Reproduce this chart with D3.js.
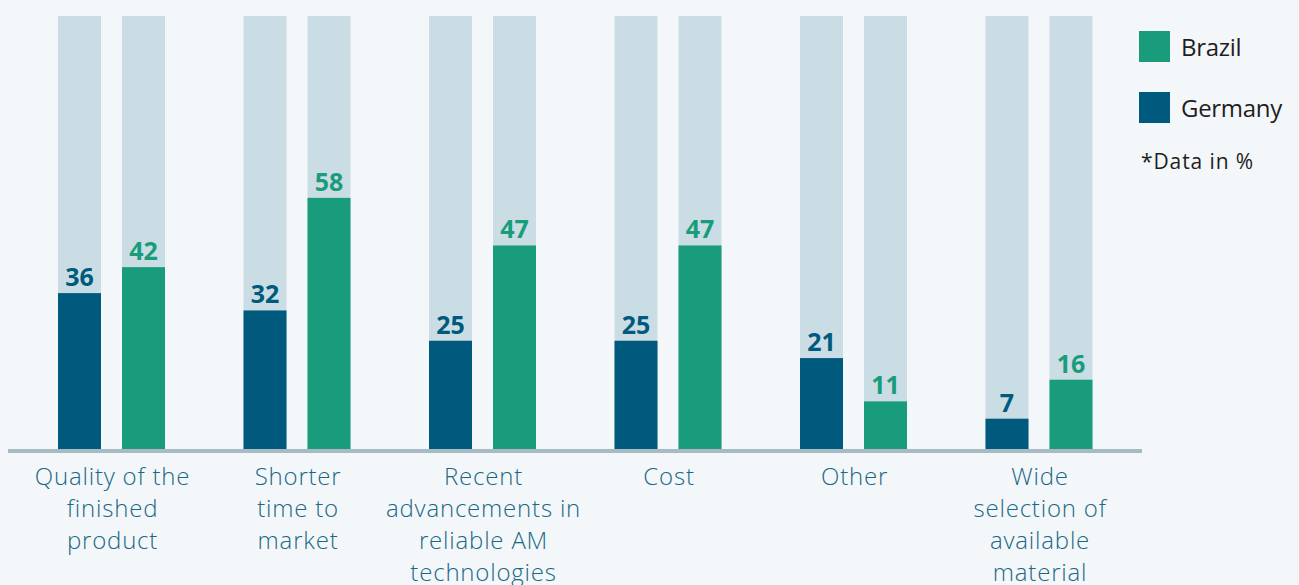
<!DOCTYPE html>
<html>
<head>
<meta charset="utf-8">
<script src="https://cdn.jsdelivr.net/npm/d3@7"></script>
<style>
  html, body { margin: 0; padding: 0; background: #f3f7f9; }
  svg { display: block; }
</style>
</head>
<body>
<svg id="chart" width="1299" height="585"></svg>
<script>
// Survey drivers, share of respondents (%)
const categories = [
  ["Quality of the", "finished", "product"],
  ["Shorter", "time to", "market"],
  ["Recent", "advancements in", "reliable AM", "technologies"],
  ["Cost"],
  ["Other"],
  ["Wide", "selection of", "available", "material"]
];
const categoryKeys = categories.map(c => c.join(" "));
const seriesNames = ["Germany", "Brazil"];
const germanyValues = [36, 32, 25, 25, 21, 7];
const brazilValues = [42, 58, 47, 47, 11, 16];
const legendNames = ["Brazil", "Germany"];
const footnote = "*Data in %";

const colors = { Germany: "#005a7d", Brazil: "#199c7c" };
const trackColor = "#cadde4";
const axisColor = "#a8bbc5";
const labelColor = "#1b6886";
const fontFamily = "'Open Sans', 'Noto Sans', sans-serif";

const svg = d3.select("#chart");

const x0 = d3.scaleBand().domain(categoryKeys).range([19, 1132]).padding(0);
const x1 = d3.scaleBand().domain(seriesNames).range([39, 146]).paddingInner(0.328).paddingOuter(0);
const y = d3.scaleLinear().domain([0, 100]).range([449, 16]);

const rows = categoryKeys.map((k, i) => ({
  key: k,
  values: [
    { series: "Germany", value: germanyValues[i] },
    { series: "Brazil", value: brazilValues[i] }
  ]
}));

const groups = svg.append("g").selectAll("g")
  .data(rows).join("g")
  .attr("transform", d => `translate(${x0(d.key)},0)`);

// full-height tracks behind each bar
groups.selectAll("rect.track").data(d => d.values).join("rect")
  .attr("class", "track")
  .attr("x", d => x1(d.series))
  .attr("width", x1.bandwidth())
  .attr("y", y(100))
  .attr("height", y(0) - y(100))
  .attr("fill", trackColor);

groups.selectAll("rect.bar").data(d => d.values).join("rect")
  .attr("class", "bar")
  .attr("x", d => x1(d.series))
  .attr("width", x1.bandwidth())
  .attr("y", d => y(d.value))
  .attr("height", d => y(0) - y(d.value))
  .attr("fill", d => colors[d.series]);

groups.selectAll("text.val").data(d => d.values).join("text")
  .attr("class", "val")
  .attr("x", d => x1(d.series) + x1.bandwidth() / 2)
  .attr("y", d => y(d.value) - 7)
  .attr("text-anchor", "middle")
  .attr("font-family", fontFamily)
  .attr("font-weight", 700)
  .attr("font-size", 25)
  .attr("fill", d => colors[d.series])
  .text(d => d.value);

// baseline
svg.append("line")
  .attr("x1", 8).attr("x2", 1142)
  .attr("y1", 451).attr("y2", 451)
  .attr("stroke", axisColor)
  .attr("stroke-width", 4);

// category labels
const catText = svg.append("g").selectAll("text")
  .data(categories).join("text")
  .attr("text-anchor", "middle")
  .attr("font-family", fontFamily)
  .attr("font-weight", 300)
  .attr("font-size", 24)
  .attr("letter-spacing", 0.8)
  .attr("fill", labelColor)
  .attr("transform", (d, i) => `translate(${x0(categoryKeys[i]) + x0.bandwidth() / 2 + 0.8},485)`);
catText.selectAll("tspan").data(d => d).join("tspan")
  .attr("x", 0)
  .attr("dy", (d, i) => i === 0 ? 0 : 32)
  .text(d => d);

// legend
const legend = svg.append("g").attr("transform", "translate(1139,31)");
const li = legend.selectAll("g").data(legendNames).join("g")
  .attr("transform", (d, i) => `translate(0,${i * 61})`);
li.append("rect").attr("width", 31).attr("height", 31).attr("fill", d => colors[d]);
li.append("text")
  .attr("x", 42).attr("y", 25)
  .attr("font-family", fontFamily)
  .attr("font-size", 24)
  .attr("letter-spacing", -0.3)
  .attr("fill", "#1e1e1e")
  .text(d => d);
legend.append("text")
  .attr("x", 2).attr("y", 138)
  .attr("font-family", fontFamily)
  .attr("font-size", 21)
  .attr("letter-spacing", 0.9)
  .attr("fill", "#1e1e1e")
  .text(footnote);
</script>
</body>
</html>
